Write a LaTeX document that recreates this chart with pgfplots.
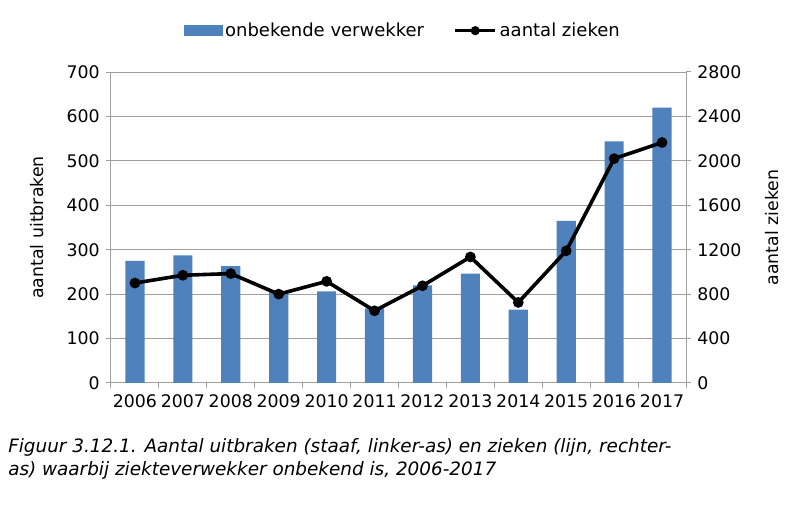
\documentclass[border=0pt]{standalone}
\usepackage{pgfplots}
\pgfplotsset{compat=1.18}
\usepackage{fontspec}
\setmainfont{DejaVu Sans}
\definecolor{barblue}{RGB}{79,129,189}
\definecolor{gridgray}{RGB}{160,160,160}
\pgfplotsset{
  common/.style={
    at={(0,0)}, anchor=south west,
    scale only axis, width=431.25pt, height=233.25pt,
    xmin=-0.5, xmax=11.5,
    /pgf/number format/assume math mode=true,
    /pgf/number format/1000 sep={},
    tick align=outside,
    major tick length=4pt,
    tick style={gridgray, line width=0.75pt},
    axis line style={gridgray, line width=0.75pt},
    tick label style={black},
    label style={black},
  },
  linelegend/.style={legend image code/.code={\draw[mark repeat=2,mark phase=2,##1, mark size=2pt] plot coordinates {(0pt,0pt) (15pt,0pt) (30pt,0pt)};}},
}
\begin{document}
\fontsize{13pt}{15.6pt}\selectfont
\begin{tikzpicture}
\path[use as bounding box] (-83.25pt,-92.25pt) rectangle (522pt,287.25pt);
\begin{axis}[common,
  ymin=0, ymax=700, ytick={0,100,...,700},
  xtick={-0.5,0.5,...,11.5},
  x tick label as interval,
  xticklabels={2006,2007,2008,2009,2010,2011,2012,2013,2014,2015,2016,2017},
  ytick pos=left, xtick pos=bottom,
  ymajorgrids, grid style={gridgray, line width=0.75pt},
  ylabel={aantal uitbraken},
  ylabel style={at={(axis description cs:0,0.5)}, anchor=center, yshift=55.5pt},
]
\addplot[ybar, bar width=14.4pt, fill=barblue, draw=none] coordinates {
(0,275) (1,287) (2,263) (3,205) (4,206) (5,168) (6,220) (7,246) (8,165) (9,365) (10,544) (11,620)};
\end{axis}
\begin{axis}[common,
  ymin=0, ymax=2800, ytick={0,400,...,2800},
  axis x line=none, axis y line*=right,
  ylabel={aantal zieken},
  ylabel style={at={(axis description cs:1,0.5)}, anchor=center, yshift=-64.5pt},
  legend style={at={(axis description cs:0.5,1)}, anchor=center, yshift=31pt, xshift=3.5pt,
    draw=none, fill=none, legend columns=2, font=\fontsize{13.5pt}{16pt}\selectfont,
    /tikz/every even column/.append style={column sep=20pt}},
]
\addlegendimage{legend image code/.code={\fill[barblue] (-2pt,-3.75pt) rectangle (26.5pt,3.75pt);}}
\addlegendentry{onbekende verwekker}
\addplot[black, line width=2.7pt, mark=*, mark size=2.6pt, linelegend]
coordinates {
(0,900) (1,970) (2,985) (3,800) (4,915) (5,650) (6,875) (7,1135) (8,725) (9,1190) (10,2020) (11,2165)};
\addlegendentry{aantal zieken}
\end{axis}
\node[anchor=north west, inner sep=0pt, align=left, font=\itshape\fontsize{13.8pt}{17.5pt}\selectfont]
  at (-77.25pt,-41.25pt) {Figuur 3.12.1. Aantal uitbraken (staaf, linker-as) en zieken (lijn, rechter-\\as) waarbij ziekteverwekker onbekend is, 2006-2017};
\end{tikzpicture}
\end{document}
